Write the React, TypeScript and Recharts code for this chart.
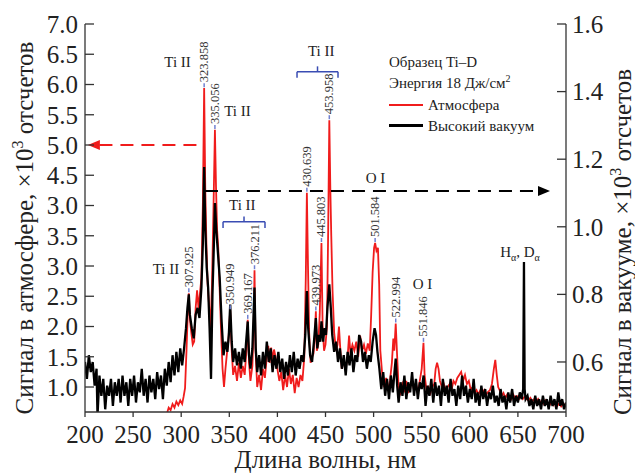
import React from "react";
import {
  ComposedChart,
  Line,
  XAxis,
  YAxis,
  ReferenceLine,
  ReferenceDot,
  Legend,
  Label,
} from "recharts";

const FONT = '"Liberation Serif", "Times New Roman", serif';
const RED = "#f01c1c";
const BLUE = "#3a4db3";

const xTicks = [200, 250, 300, 350, 400, 450, 500, 550, 600, 650, 700];
const leftTicks = [1.0, 1.5, 2.0, 2.5, 3.0, 3.5, 4.0, 4.5, 5.0, 5.5, 6.0, 6.5, 7.0];
// the source figure prints "3.0" at the 4.0 position
const leftTickLabels = ["1.0", "1.5", "2.0", "2.5", "3.0", "3.5", "3.0", "4.5", "5.0", "5.5", "6.0", "6.5", "7.0"];
const rightTicks = [0.6, 0.8, 1.0, 1.2, 1.4, 1.6];

// [wavelength nm, signal x10^3]
const atmosphere: [number, number][] = [
  [200, 0.45], [230, 0.45], [260, 0.45], [284, 0.5], [287, 0.66], [289, 0.62], [291, 0.72], [293, 0.66],
  [295, 0.76], [297, 0.7], [299, 0.78], [301, 0.72], [302.5, 0.84], [304, 0.98], [305.5, 1.6], [306.8, 2.2],
  [307.925, 2.55], [309.2, 2.1], [310.5, 1.9], [312, 1.7], [313.5, 1.75], [315, 2.3], [316.5, 2.6], [318, 2.3],
  [319.5, 2.55], [321, 2.8], [322.5, 4.0], [323.858, 5.94], [325, 4.3], [326.3, 3.3], [327.5, 2.7], [329, 2.35],
  [330.5, 1.95], [332, 2.7], [333.5, 3.9], [335.056, 5.25], [336.2, 4.3], [337.3, 3.6], [338.5, 3.3], [340, 2.6],
  [341.5, 1.9], [343, 1.3], [344.5, 1.0], [346, 1.3], [347.5, 1.55], [349, 1.75], [350.949, 2.27], [352.5, 1.6],
  [354, 1.2], [356, 1.35], [358, 1.1], [360, 1.4], [362, 1.15], [364, 1.35], [366, 1.2], [367.8, 1.6],
  [369.167, 2.11], [370.5, 1.4], [372, 1.1], [374, 1.35], [375.3, 2.0], [376.211, 2.93], [377.3, 1.6], [379, 1.0],
  [381, 1.2], [383, 0.95], [385, 1.3], [387, 1.15], [389, 1.5], [390.5, 1.68], [392, 1.4], [393.5, 1.65],
  [395, 1.45], [396.5, 1.62], [398, 1.5], [400, 1.3], [402, 1.1], [404, 1.25], [406, 0.95], [408, 1.2],
  [410, 1.0], [412, 1.3], [414, 1.05], [416, 1.2], [418, 0.9], [420, 1.15], [422, 1.0], [424, 1.2],
  [426, 1.1], [428, 1.5], [429.5, 2.8], [430.639, 4.21], [431.8, 3.0], [433, 1.9], [434.5, 1.4], [436, 1.5],
  [437.5, 1.55], [438.8, 1.8], [439.973, 2.25], [441, 1.6], [442.5, 1.7], [444, 2.2], [445.803, 3.38], [447, 2.0],
  [448.5, 1.6], [450, 1.7], [451.5, 2.0], [452.8, 3.6], [453.958, 5.41], [455, 4.3], [456, 3.5], [457.3, 2.6],
  [459, 1.9], [461, 1.6], [462.5, 1.7], [464, 2.0], [465.5, 1.6], [467, 1.3], [469, 1.45], [471, 1.3],
  [473, 1.5], [474.5, 1.85], [476, 1.55], [478, 1.7], [480, 1.6], [482, 1.75], [484, 1.5], [486, 1.85],
  [488, 1.6], [490, 1.7], [492, 1.55], [494, 1.72], [496, 1.6], [497.5, 2.2], [499, 2.9], [500.5, 3.3],
  [501.584, 3.38], [503, 3.25], [504.5, 3.3], [505.8, 2.7], [507, 1.6], [509, 1.2], [511, 1.0], [513, 1.15],
  [515, 0.95], [517, 1.1], [519, 1.4], [520.5, 1.8], [521.5, 1.6], [522.994, 2.05], [524.5, 1.5], [526, 1.0],
  [528, 0.9], [530, 1.05], [532, 0.95], [534, 1.1], [536, 0.9], [538, 1.0], [540, 1.1], [542, 0.95],
  [544, 1.05], [546, 0.9], [548, 1.1], [550, 1.3], [551.846, 1.73], [553, 1.2], [555, 0.95], [557, 1.0],
  [559, 0.9], [561, 1.0], [563, 1.05], [564.5, 1.3], [566, 1.4], [567.5, 1.3], [569, 1.1], [571, 1.0],
  [573, 1.05], [575, 0.95], [577, 1.0], [579, 1.05], [581, 0.95], [583, 1.1], [585, 1.05], [587, 1.15],
  [589, 1.2], [591, 1.25], [593, 1.1], [595, 1.2], [597, 1.05], [599, 1.1], [601, 0.95], [603, 1.0],
  [605, 0.9], [607, 0.95], [609, 0.88], [611, 0.95], [613, 0.9], [615, 0.95], [617, 0.88], [619, 0.92],
  [621, 0.95], [623, 1.05], [625, 1.3], [626.5, 1.45], [628, 1.2], [629.5, 1.0], [631, 0.95], [633, 0.85],
  [635, 0.9], [637, 0.82], [639, 0.88], [641, 0.85], [643, 0.8], [645, 0.88], [647, 0.82], [649, 0.85],
  [651, 0.8], [653, 0.84], [655, 0.8], [657, 0.84], [659, 0.8], [661, 0.78], [663, 0.82], [665, 0.76],
  [667, 0.8], [669, 0.75], [671, 0.8], [673, 0.74], [675, 0.78], [677, 0.72], [679, 0.78], [681, 0.74],
  [683, 0.7], [685, 0.76], [687, 0.7], [689, 0.74], [691, 0.69], [693, 0.73], [695, 0.68], [697, 0.72],
  [700, 0.7],
];

const vacuum: [number, number][] = [
  [200, 0.6], [202, 0.55], [204, 0.62], [206, 0.57], [208, 0.6], [210, 0.53], [212, 0.58], [213, 0.44],
  [215, 0.56], [217, 0.5], [219, 0.55], [221, 0.46], [223, 0.53], [225, 0.5], [227, 0.55], [229, 0.47],
  [231, 0.54], [233, 0.5], [235, 0.55], [237, 0.48], [239, 0.56], [241, 0.5], [243, 0.54], [245, 0.47],
  [247, 0.55], [249, 0.5], [251, 0.56], [253, 0.48], [255, 0.54], [257, 0.51], [259, 0.58], [261, 0.5],
  [263, 0.55], [265, 0.48], [267, 0.56], [269, 0.51], [271, 0.55], [273, 0.49], [275, 0.57], [277, 0.52],
  [279, 0.56], [281, 0.49], [283, 0.58], [285, 0.53], [287, 0.6], [289, 0.54], [291, 0.62], [293, 0.56],
  [295, 0.63], [297, 0.57], [299, 0.64], [301, 0.59], [303, 0.64], [305, 0.7], [306.5, 0.76], [307.925, 0.8],
  [309, 0.74], [311, 0.7], [313, 0.67], [315, 0.74], [317, 0.76], [319, 0.73], [321, 0.82], [322.5, 0.95],
  [323.858, 1.177], [325, 1.0], [326.5, 0.88], [328, 0.82], [329.5, 0.7], [331, 0.55], [332.5, 0.8], [334, 0.95],
  [335.056, 1.07], [336.5, 0.99], [338, 0.93], [340, 0.85], [342, 0.72], [344, 0.62], [346, 0.66], [348, 0.63],
  [349.5, 0.68], [350.949, 0.77], [352.5, 0.66], [354, 0.6], [356, 0.64], [358, 0.59], [360, 0.63], [362, 0.58],
  [364, 0.64], [366, 0.6], [367.5, 0.66], [369.167, 0.72], [370.5, 0.62], [372, 0.58], [374, 0.64], [376.211, 0.82],
  [377.5, 0.64], [379, 0.57], [381, 0.62], [383, 0.56], [385, 0.63], [387, 0.58], [389, 0.66], [391, 0.6],
  [393, 0.64], [395, 0.57], [397, 0.62], [399, 0.58], [401, 0.63], [403, 0.57], [405, 0.61], [407, 0.55],
  [409, 0.6], [411, 0.56], [413, 0.62], [415, 0.57], [417, 0.63], [419, 0.56], [421, 0.61], [423, 0.58],
  [425, 0.62], [427, 0.6], [429, 0.68], [430.639, 0.81], [432, 0.7], [434, 0.62], [436, 0.6], [438, 0.66],
  [439.973, 0.73], [441.5, 0.64], [443, 0.68], [444.5, 0.66], [445.803, 0.72], [447.5, 0.66], [449, 0.7], [450.5, 0.68],
  [452, 0.76], [453.958, 0.83], [455.5, 0.76], [457, 0.68], [459, 0.63], [461, 0.66], [463, 0.6], [465, 0.64],
  [467, 0.58], [469, 0.62], [471, 0.56], [473, 0.63], [475, 0.59], [477, 0.64], [479, 0.57], [481, 0.62],
  [483, 0.6], [485, 0.68], [487, 0.66], [489, 0.6], [491, 0.63], [493, 0.58], [495, 0.62], [497, 0.6],
  [499, 0.66], [501, 0.7], [502.5, 0.68], [504, 0.63], [506, 0.58], [508, 0.52], [510, 0.57], [512, 0.5],
  [514, 0.55], [516, 0.49], [518, 0.56], [520, 0.51], [522, 0.58], [523, 0.61], [524.5, 0.53], [526, 0.48],
  [528, 0.54], [530, 0.5], [532, 0.56], [534, 0.49], [536, 0.54], [538, 0.51], [540, 0.57], [542, 0.5],
  [544, 0.55], [546, 0.49], [548, 0.54], [550, 0.52], [552, 0.56], [554, 0.47], [556, 0.53], [558, 0.5],
  [560, 0.55], [562, 0.48], [564, 0.54], [566, 0.5], [568, 0.53], [570, 0.47], [572, 0.55], [574, 0.5],
  [576, 0.53], [578, 0.48], [580, 0.55], [582, 0.5], [584, 0.52], [586, 0.47], [588, 0.53], [590, 0.49],
  [592, 0.56], [594, 0.5], [596, 0.53], [598, 0.48], [600, 0.52], [602, 0.49], [604, 0.55], [606, 0.48],
  [608, 0.51], [610, 0.47], [612, 0.53], [614, 0.49], [616, 0.52], [618, 0.47], [620, 0.51], [622, 0.49],
  [624, 0.53], [626, 0.48], [628, 0.5], [630, 0.47], [632, 0.52], [634, 0.48], [636, 0.5], [638, 0.46],
  [640, 0.51], [642, 0.48], [644, 0.52], [646, 0.47], [648, 0.5], [650, 0.48], [652, 0.51], [654, 0.49],
  [655.5, 0.52], [656.3, 0.896], [657, 0.52], [658, 0.49], [660, 0.5], [662, 0.47], [664, 0.49], [666, 0.46],
  [668, 0.5], [670, 0.47], [672, 0.49], [674, 0.46], [676, 0.5], [678, 0.47], [680, 0.49], [682, 0.46],
  [684, 0.5], [686, 0.47], [688, 0.49], [690, 0.46], [692, 0.51], [694, 0.47], [696, 0.49], [698, 0.46],
  [700, 0.48],
];

// labelled lines (nm) on the atmosphere spectrum
const peakLines = [307.925, 323.858, 335.056, 350.949, 369.167, 376.211, 430.639, 439.973, 445.803, 453.958, 501.584, 522.994, 551.846];

// species labels: [nm, left-axis level, text]
const speciesNotes: [number, number, string][] = [
  [296.2, 6.29, "Ti II"],
  [358.5, 5.48, "Ti II"],
  [363.5, 3.93, "Ti II"],
  [445.6, 6.47, "Ti II"],
  [284.2, 2.87, "Ti II"],
  [502, 4.37, "O I"],
  [550.8, 2.62, "O I"],
];

// braces over line groups: [from nm, to nm, level]
const braces: [number, number, number][] = [
  [343.5, 387.1, 3.73],
  [420.4, 463.0, 6.21],
];

const atmData = atmosphere.map(([nm, v]) => ({ nm, v }));
const vacData = vacuum.map(([nm, v]) => ({ nm, v }));

const series = [
  { name: "Атмосфера", color: RED, width: 2 },
  { name: "Высокий вакуум", color: "#000", width: 3 },
];

const LeftTick = ({ x, y, payload }: any) => {
  const i = leftTicks.indexOf(payload.value);
  return (
    <g>
      <line x1={x} x2={x + 9} y1={y} y2={y} stroke="#333" strokeWidth={1.3} />
      <text x={x - 7} y={y} dy="0.35em" textAnchor="end" fontFamily={FONT} fontSize={25} fill="#222">
        {leftTickLabels[i]}
      </text>
    </g>
  );
};

const RightTick = ({ x, y, payload }: any) => (
  <g>
    <line x1={x} x2={x - 9} y1={y} y2={y} stroke="#333" strokeWidth={1.3} />
    <text x={x + 6} y={y} dy="0.35em" textAnchor="start" fontFamily={FONT} fontSize={25} fill="#222">
      {payload.value.toFixed(1)}
    </text>
  </g>
);

const BottomTick = ({ x, y, payload }: any) => (
  <g>
    <line x1={x} x2={x} y1={y} y2={y + 5} stroke="#333" strokeWidth={1.3} />
    <text x={x} y={y + 13} dy="0.71em" textAnchor="middle" fontFamily={FONT} fontSize={25} fill="#222">
      {payload.value}
    </text>
  </g>
);

const AxisTitle = ({ viewBox, side }: any) => {
  const { x, y, width } = viewBox;
  if (side === "bottom") {
    return (
      <text x={x + width / 2} y={y + 56} textAnchor="middle" fontFamily={FONT} fontSize={25} fill="#222">
        Длина волны, нм
      </text>
    );
  }
  const tx = side === "left" ? x + 33 : x + 65;
  const ty = side === "left" ? 228 : 242;
  const text = side === "left" ? "Сигнал в атмосфере, ×10" : "Сигнал в вакууме, ×10";
  return (
    <text x={tx} y={ty} transform={`rotate(-90, ${tx}, ${ty})`} textAnchor="middle" fontFamily={FONT} fontSize={25} fill="#222">
      <tspan>{text}</tspan>
      <tspan dy={-10} fontSize={16}>3</tspan>
      <tspan dy={10}> отсчетов</tspan>
    </text>
  );
};

const PeakTag = ({ cx, cy, text }: any) => {
  const tx = cx + 4;
  const ty = cy - 6;
  return (
    <g>
      <line x1={cx} x2={cx} y1={cy - 1} y2={cy - 5} stroke="#7080d0" strokeWidth={1.5} />
      <text x={tx} y={ty} transform={`rotate(-90, ${tx}, ${ty})`} fontFamily={FONT} fontSize={12.5} fill="#333">
        {text}
      </text>
    </g>
  );
};

const LegendBox = () => (
  <div style={{ fontFamily: FONT, fontSize: 15, lineHeight: "21px", color: "#222", whiteSpace: "nowrap" }}>
    <div>Образец Ti–D</div>
    <div>
      Энергия 18 Дж/см<span style={{ position: "relative", top: -6, fontSize: 10 }}>2</span>
    </div>
    {series.map((s) => (
      <div key={s.name} style={{ display: "flex", alignItems: "center" }}>
        <span style={{ display: "inline-block", width: 34, height: s.width, background: s.color, marginRight: 5, marginTop: -2 }} />
        {s.name}
      </div>
    ))}
  </div>
);

export default function App() {
  return (
    <div style={{ width: 635, height: 475, background: "#fff" }}>
      <style>{`body { margin: 0; }`}</style>
      <ComposedChart width={635} height={475} margin={{ top: 24, right: 0, bottom: 0, left: 0 }}>
        <XAxis
          type="number"
          dataKey="nm"
          domain={[200, 700]}
          ticks={xTicks}
          allowDataOverflow
          height={63}
          tickSize={0}
          tickMargin={0}
          tickLine={false}
          axisLine={{ stroke: "#333", strokeWidth: 1.3 }}
          tick={<BottomTick />}
        >
          <Label content={(p: any) => <AxisTitle {...p} side="bottom" />} />
        </XAxis>
        <YAxis
          yAxisId="left"
          type="number"
          domain={[0.587, 7.0]}
          ticks={leftTicks}
          allowDataOverflow
          width={85}
          tickSize={0}
          tickMargin={0}
          tickLine={false}
          axisLine={{ stroke: "#333", strokeWidth: 1.3 }}
          tick={<LeftTick />}
        >
          <Label content={(p: any) => <AxisTitle {...p} side="left" />} />
        </YAxis>
        <YAxis
          yAxisId="right"
          orientation="right"
          type="number"
          domain={[0.452, 1.6]}
          ticks={rightTicks}
          allowDataOverflow
          width={69}
          tickSize={0}
          tickMargin={0}
          tickLine={false}
          axisLine={{ stroke: "#333", strokeWidth: 1.3 }}
          tick={<RightTick />}
        >
          <Label content={(p: any) => <AxisTitle {...p} side="right" />} />
        </YAxis>

        <Legend
          layout="vertical"
          align="center"
          verticalAlign="middle"
          wrapperStyle={{ left: 389, top: 52, width: 200 }}
          content={() => <LegendBox />}
        />

        <Line
          yAxisId="left"
          data={atmData}
          dataKey="v"
          name="Атмосфера"
          type="linear"
          stroke={RED}
          strokeWidth={1.8}
          dot={false}
          activeDot={false}
          isAnimationActive={false}
        />
        <Line
          yAxisId="right"
          data={vacData}
          dataKey="v"
          name="Высокий вакуум"
          type="linear"
          stroke="#000"
          strokeWidth={2.3}
          dot={false}
          activeDot={false}
          isAnimationActive={false}
        />

        {/* dashed arrows pointing to the axis each spectrum uses */}
        <ReferenceLine
          yAxisId="left"
          segment={[{ x: 215, y: 5.0 }, { x: 322.7, y: 5.0 }]}
          stroke={RED}
          strokeWidth={2}
          strokeDasharray="13 8"
        />
        <ReferenceDot
          yAxisId="left"
          x={203}
          y={5.0}
          r={0}
          shape={(p: any) => (
            <polygon points={`${p.cx},${p.cy} ${p.cx + 12},${p.cy - 5} ${p.cx + 12},${p.cy + 5}`} fill={RED} />
          )}
        />
        <ReferenceLine
          yAxisId="right"
          segment={[{ x: 324.7, y: 1.106 }, { x: 671, y: 1.106 }]}
          stroke="#000"
          strokeWidth={2}
          strokeDasharray="13 8"
        />
        <ReferenceDot
          yAxisId="right"
          x={683.4}
          y={1.106}
          r={0}
          shape={(p: any) => (
            <polygon points={`${p.cx},${p.cy} ${p.cx - 12},${p.cy - 5} ${p.cx - 12},${p.cy + 5}`} fill="#000" />
          )}
        />

        {braces.map(([a, b, lvl], i) => (
          <React.Fragment key={`brace-${i}`}>
            <ReferenceLine yAxisId="left" segment={[{ x: a, y: lvl }, { x: b, y: lvl }]} stroke={BLUE} strokeWidth={1.5} />
            <ReferenceLine yAxisId="left" segment={[{ x: a, y: lvl }, { x: a, y: lvl - 0.1 }]} stroke={BLUE} strokeWidth={1.5} />
            <ReferenceLine yAxisId="left" segment={[{ x: b, y: lvl }, { x: b, y: lvl - 0.1 }]} stroke={BLUE} strokeWidth={1.5} />
            <ReferenceLine
              yAxisId="left"
              segment={[{ x: (a + b) / 2, y: lvl }, { x: (a + b) / 2, y: lvl + 0.09 }]}
              stroke={BLUE}
              strokeWidth={1.5}
            />
          </React.Fragment>
        ))}

        {peakLines.map((nm) => {
          const pt = atmosphere.find((d) => d[0] === nm)!;
          return (
            <ReferenceDot
              key={`peak-${nm}`}
              yAxisId="left"
              x={nm}
              y={pt[1]}
              r={0}
              shape={(p: any) => <PeakTag cx={p.cx} cy={p.cy} text={nm.toFixed(3)} />}
            />
          );
        })}

        {speciesNotes.map(([nm, lvl, text], i) => (
          <ReferenceDot
            key={`note-${i}`}
            yAxisId="left"
            x={nm}
            y={lvl}
            r={0}
            shape={(p: any) => (
              <text x={p.cx} y={p.cy} textAnchor="middle" fontFamily={FONT} fontSize={15} fill="#222">
                {text}
              </text>
            )}
          />
        ))}

        <ReferenceDot
          yAxisId="left"
          x={652.2}
          y={3.15}
          r={0}
          shape={(p: any) => (
            <text x={p.cx} y={p.cy} textAnchor="middle" fontFamily={FONT} fontSize={15} fill="#222">
              H<tspan dy={4} fontSize={10}>α</tspan>
              <tspan dy={-4}>, D</tspan>
              <tspan dy={4} fontSize={10}>α</tspan>
            </text>
          )}
        />
      </ComposedChart>
    </div>
  );
}
